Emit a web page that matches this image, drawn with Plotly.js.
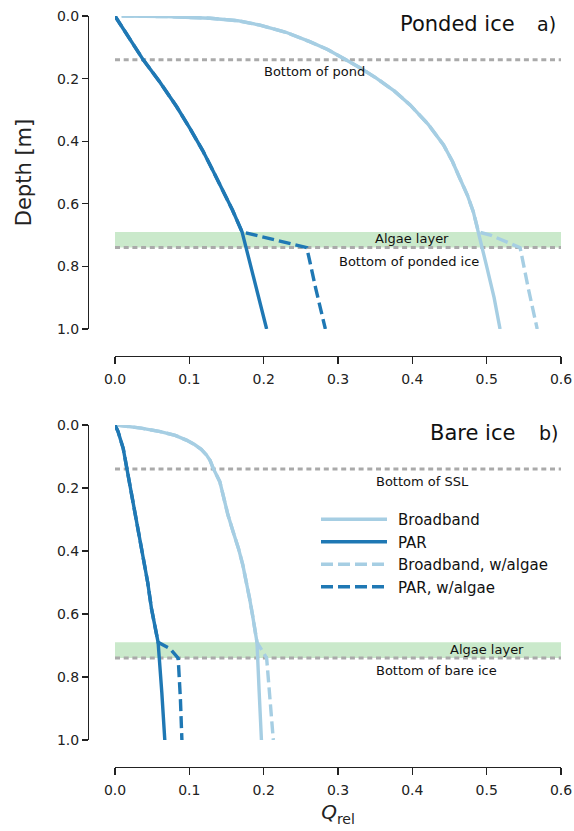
<!DOCTYPE html>
<html>
<head>
<meta charset="utf-8">
<script src="https://cdn.plot.ly/plotly-3.0.1.min.js"></script>
<style>html,body{margin:0;padding:0;background:#fff;} #chart{width:574px;height:831px;}</style>
</head>
<body>
<div id="chart"></div>
<script>
// ---------- Data ----------
// a) Ponded ice
const pondParDepth = [0, 0.07, 0.14, 0.21, 0.29, 0.36, 0.43, 0.50, 0.56, 0.62, 0.69, 0.80, 0.90, 1.0];
const pondParQ     = [0, 0.019, 0.038, 0.060, 0.083, 0.101, 0.118, 0.133, 0.146, 0.158, 0.171, 0.183, 0.194, 0.204];
const pondParAlgDepth = [0, 0.07, 0.14, 0.21, 0.29, 0.36, 0.43, 0.50, 0.56, 0.62, 0.69, 0.74, 0.87, 1.0];
const pondParAlgQ     = [0, 0.019, 0.038, 0.060, 0.083, 0.101, 0.118, 0.133, 0.146, 0.158, 0.171, 0.258, 0.270, 0.283];

const pondBbDepth = [0, 0.002, 0.007, 0.015, 0.029, 0.052, 0.082, 0.107, 0.135, 0.166, 0.199, 0.24, 0.284, 0.345, 0.412, 0.465, 0.519, 0.572, 0.625, 0.69, 0.80, 0.90, 1.0];
const pondBbQ     = [0.009, 0.070, 0.128, 0.165, 0.195, 0.230, 0.262, 0.286, 0.307, 0.330, 0.352, 0.376, 0.397, 0.421, 0.442, 0.454, 0.464, 0.474, 0.482, 0.489, 0.500, 0.510, 0.518];
const pondBbAlgDepth = [0, 0.002, 0.007, 0.015, 0.029, 0.052, 0.082, 0.107, 0.135, 0.166, 0.199, 0.24, 0.284, 0.345, 0.412, 0.465, 0.519, 0.572, 0.625, 0.69, 0.70, 0.74, 0.87, 1.0];
const pondBbAlgQ     = [0.009, 0.070, 0.128, 0.165, 0.195, 0.230, 0.262, 0.286, 0.307, 0.330, 0.352, 0.376, 0.397, 0.421, 0.442, 0.454, 0.464, 0.474, 0.482, 0.489, 0.505, 0.545, 0.556, 0.568];

// b) Bare ice
const bareParDepth = [0, 0.02, 0.074, 0.137, 0.21, 0.286, 0.35, 0.413, 0.50, 0.582, 0.69, 0.85, 1.0];
const bareParQ     = [0, 0.004, 0.011, 0.016, 0.021, 0.027, 0.033, 0.038, 0.044, 0.049, 0.058, 0.063, 0.067];
const bareParAlgDepth = [0, 0.02, 0.074, 0.137, 0.21, 0.286, 0.35, 0.413, 0.50, 0.582, 0.69, 0.71, 0.74, 0.87, 1.0];
const bareParAlgQ     = [0, 0.004, 0.011, 0.016, 0.021, 0.027, 0.033, 0.038, 0.044, 0.049, 0.058, 0.074, 0.085, 0.088, 0.090];

const bareBbDepth = [0, 0.01, 0.021, 0.033, 0.048, 0.062, 0.077, 0.095, 0.113, 0.137, 0.18, 0.23, 0.286, 0.34, 0.391, 0.445, 0.497, 0.55, 0.603, 0.69, 0.85, 1.0];
const bareBbQ     = [0.002, 0.035, 0.061, 0.081, 0.096, 0.107, 0.116, 0.123, 0.128, 0.132, 0.141, 0.146, 0.152, 0.159, 0.166, 0.172, 0.177, 0.181, 0.185, 0.191, 0.194, 0.197];
const bareBbAlgDepth = [0, 0.01, 0.021, 0.033, 0.048, 0.062, 0.077, 0.095, 0.113, 0.137, 0.18, 0.23, 0.286, 0.34, 0.391, 0.445, 0.497, 0.55, 0.603, 0.69, 0.74, 0.87, 1.0];
const bareBbAlgQ     = [0.002, 0.035, 0.061, 0.081, 0.096, 0.107, 0.116, 0.123, 0.128, 0.132, 0.141, 0.146, 0.152, 0.159, 0.166, 0.172, 0.177, 0.181, 0.185, 0.191, 0.204, 0.209, 0.213];

// Layer depths
const pondBottomDepth = 0.14;     // bottom of pond
const sslBottomDepth = 0.14;      // bottom of SSL
const iceBottomDepth = 0.74;      // bottom of ice
const algaeTopDepth = 0.69;       // top of algae layer

const xTicks = [0, 0.1, 0.2, 0.3, 0.4, 0.5, 0.6];
const xTickText = ['0.0', '0.1', '0.2', '0.3', '0.4', '0.5', '0.6'];
const yTicks = [0, 0.2, 0.4, 0.6, 0.8, 1.0];
const yTickText = ['0.0', '0.2', '0.4', '0.6', '0.8', '1.0'];

const seriesNames = ['Broadband', 'PAR', 'Broadband, w/algae', 'PAR, w/algae'];

// ---------- Styling ----------
const LIGHT = '#a6cee3';
const DARK = '#1f78b4';
const FONT = 'DejaVu Sans, Liberation Sans, sans-serif';
const W = 574, H = 831;
const px2fx = p => p / W;
const px2fy = p => 1 - p / H;

function line(x, y, color, dash, name, xa, ya, showlegend) {
  return {
    type: 'scatter', mode: 'lines', x: x, y: y, name: name,
    xaxis: xa, yaxis: ya, showlegend: showlegend, legendgroup: name,
    line: {color: color, width: 3.4, dash: dash ? '12px,5px' : 'solid'},
    hoverinfo: 'skip'
  };
}

const data = [
  line(pondBbQ, pondBbDepth, LIGHT, false, seriesNames[0], 'x', 'y', false),
  line(pondParQ, pondParDepth, DARK, false, seriesNames[1], 'x', 'y', false),
  line(pondBbAlgQ, pondBbAlgDepth, LIGHT, true, seriesNames[2], 'x', 'y', false),
  line(pondParAlgQ, pondParAlgDepth, DARK, true, seriesNames[3], 'x', 'y', false),
  line(bareBbQ, bareBbDepth, LIGHT, false, seriesNames[0], 'x2', 'y2', true),
  line(bareParQ, bareParDepth, DARK, false, seriesNames[1], 'x2', 'y2', true),
  line(bareBbAlgQ, bareBbAlgDepth, LIGHT, true, seriesNames[2], 'x2', 'y2', true),
  line(bareParAlgQ, bareParAlgDepth, DARK, true, seriesNames[3], 'x2', 'y2', true)
];

const xDomain = [px2fx(115), px2fx(561)];
function xAxis(posPx, title) {
  const ax = {
    domain: xDomain, range: [0, 0.6], anchor: 'free', position: px2fy(posPx),
    showline: true, linecolor: '#222', linewidth: 1.3,
    ticks: 'outside', ticklen: 7, tickwidth: 1.3, tickcolor: '#222',
    tickvals: xTicks, ticktext: xTickText, ticklabelstandoff: 3,
    tickfont: {family: FONT, size: 14, color: '#222'},
    showgrid: false, zeroline: false, fixedrange: true
  };
  if (title) ax.title = {text: title, font: {family: FONT, size: 20, color: '#222'}, standoff: 8};
  return ax;
}
function yAxis(top, bottom, title) {
  const ax = {
    domain: [px2fy(bottom), px2fy(top)], range: [1, 0], anchor: 'free', position: px2fx(88),
    showline: true, linecolor: '#222', linewidth: 1.3,
    ticks: 'outside', ticklen: 6, tickwidth: 1.3, tickcolor: '#222',
    tickvals: yTicks, ticktext: yTickText,
    tickfont: {family: FONT, size: 14, color: '#222'},
    showgrid: false, zeroline: false, fixedrange: true
  };
  if (title) ax.title = {text: title, font: {family: FONT, size: 21, color: '#222'}, standoff: 18};
  return ax;
}

function bandShapes(xa, ya, upperDepth) {
  return [
    {type: 'rect', xref: xa, yref: ya, x0: 0, x1: 0.6, y0: algaeTopDepth, y1: iceBottomDepth,
     fillcolor: 'rgba(116,196,118,0.38)', line: {width: 0}, layer: 'below'},
    {type: 'line', xref: xa, yref: ya, x0: 0, x1: 0.6, y0: upperDepth, y1: upperDepth,
     line: {color: '#aaaaaa', width: 3, dash: '5px,3.7px'}, layer: 'below'},
    {type: 'line', xref: xa, yref: ya, x0: 0, x1: 0.6, y0: iceBottomDepth, y1: iceBottomDepth,
     line: {color: '#aaaaaa', width: 3, dash: '5px,3.7px'}, layer: 'below'}
  ];
}

function txt(xa, ya, x, y, text, size) {
  return {xref: xa, yref: ya, x: x, y: y, text: text, showarrow: false,
          xanchor: 'center', yanchor: 'middle',
          font: {family: FONT, size: size, color: '#111'}};
}

const annotations = [
  txt('x', 'y', 0.4605, 0.026, 'Ponded ice', 21),
  txt('x', 'y', 0.581, 0.026, 'a)', 19),
  txt('x', 'y', 0.269, 0.178, 'Bottom of pond', 13),
  txt('x', 'y', 0.400, 0.712, 'Algae layer', 13),
  txt('x', 'y', 0.396, 0.783, 'Bottom of ponded ice', 13),
  txt('x2', 'y2', 0.481, 0.025, 'Bare ice', 21),
  txt('x2', 'y2', 0.583, 0.025, 'b)', 19),
  txt('x2', 'y2', 0.414, 0.179, 'Bottom of SSL', 13),
  txt('x2', 'y2', 0.500, 0.713, 'Algae layer', 13),
  txt('x2', 'y2', 0.433, 0.779, 'Bottom of bare ice', 13)
];

const layout = {
  width: W, height: H,
  margin: {l: 0, r: 0, t: 0, b: 0},
  paper_bgcolor: '#fff', plot_bgcolor: 'rgba(0,0,0,0)',
  font: {family: FONT, color: '#222'},
  xaxis: xAxis(356, null),
  yaxis: yAxis(16, 329, 'Depth [m]'),
  xaxis2: xAxis(767, '<i>Q</i><sub>rel</sub>'),
  yaxis2: yAxis(425, 740, null),
  shapes: [].concat(bandShapes('x', 'y', pondBottomDepth), bandShapes('x2', 'y2', sslBottomDepth)),
  annotations: annotations,
  showlegend: true,
  legend: {x: px2fx(316), y: px2fy(503), xanchor: 'left', yanchor: 'top',
           bgcolor: 'rgba(0,0,0,0)', borderwidth: 0, itemwidth: 72,
           tracegroupgap: 4, traceorder: 'normal',
           font: {family: FONT, size: 15, color: '#111'}}
};

function stretchLegendLines() {
  document.querySelectorAll('.legend .legendlines path').forEach(p => p.setAttribute('d', 'M5,0h66'));
}

const gd = document.getElementById('chart');
Plotly.newPlot(gd, data, layout, {staticPlot: true, displayModeBar: false}).then(() => {
  stretchLegendLines();
  gd.on && gd.on('plotly_afterplot', stretchLegendLines);
});
</script>
</body>
</html>
